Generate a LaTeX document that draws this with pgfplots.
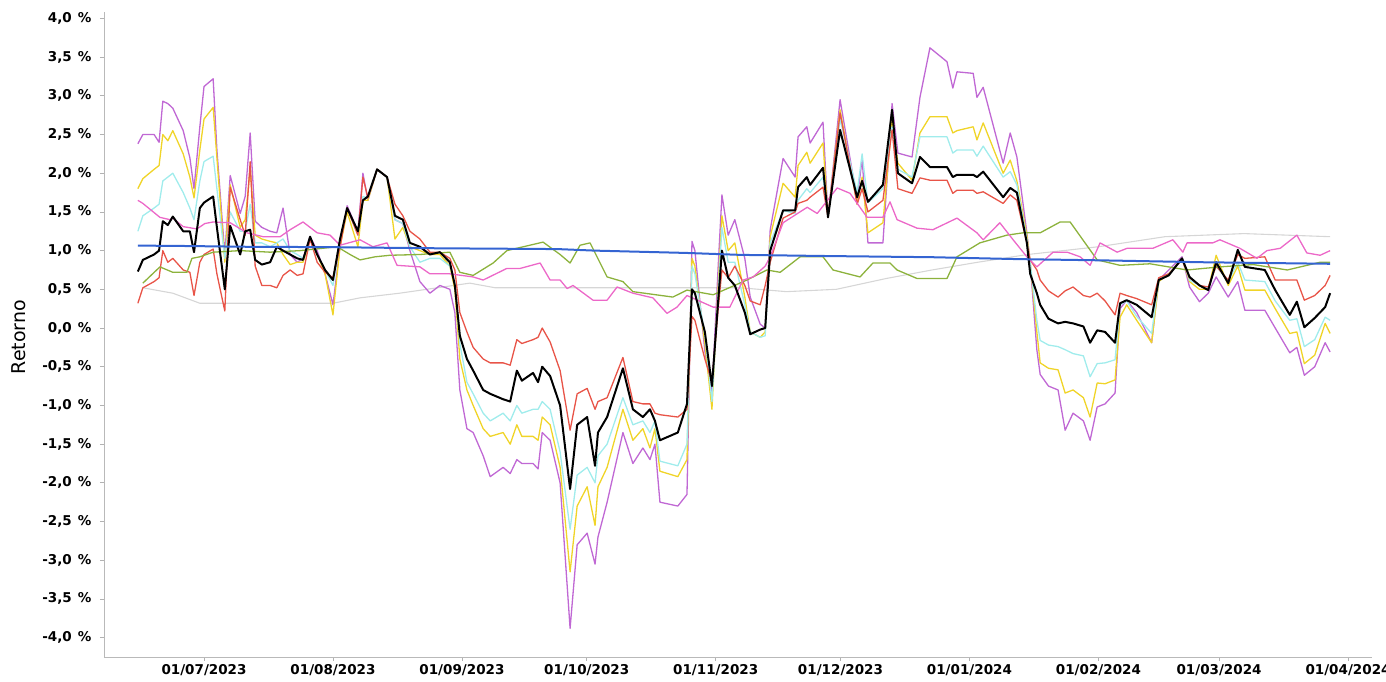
\documentclass[border=0pt]{standalone}
\usepackage{fontspec}
\setmainfont{DejaVu Sans}
\usepackage{pgfplots}
\usepackage{pgfplotstable}
\pgfplotsset{compat=1.18}

\definecolor{cPurple}{RGB}{192,104,212}
\definecolor{cYellow}{RGB}{240,212,40}
\definecolor{cCyan}{RGB}{160,236,236}
\definecolor{cRed}{RGB}{232,84,72}
\definecolor{cGreen}{RGB}{140,178,60}
\definecolor{cPink}{RGB}{236,104,200}
\definecolor{cBlue}{RGB}{52,100,210}
\definecolor{cGray}{RGB}{214,214,214}

% day = days since 01/07/2023, values in %
\pgfplotstableread{
d P Y C K R
-15.9 2.38 1.80 1.25 0.73 0.32
-14.7 2.50 1.93 1.45 0.88 0.52
-12.0 2.50 2.05 1.55 0.95 0.60
-10.8 2.40 2.10 1.60 1.00 0.65
-9.9 2.93 2.50 1.90 1.38 1.00
-8.7 2.90 2.42 1.95 1.33 0.85
-7.5 2.84 2.55 2.00 1.44 0.90
-5.0 2.55 2.25 1.75 1.25 0.75
-3.4 2.20 1.95 1.55 1.25 0.72
-2.4 1.80 1.68 1.40 0.98 0.42
-1.0 2.60 2.30 1.90 1.55 0.85
0.0 3.12 2.70 2.15 1.62 0.95
2.2 3.22 2.85 2.22 1.70 1.02
3.1 2.30 2.20 1.80 1.30 0.70
5.0 0.95 0.85 0.90 0.50 0.22
6.3 1.97 1.85 1.50 1.32 1.82
8.7 1.48 1.30 1.25 0.95 1.40
9.9 1.70 1.40 1.25 1.25 1.20
11.1 2.52 2.05 1.60 1.27 2.15
12.3 1.38 1.20 1.10 0.88 0.80
13.9 1.30 1.15 1.10 0.82 0.55
15.9 1.25 1.12 1.05 0.85 0.55
17.5 1.23 1.10 1.10 1.05 0.52
19.0 1.55 0.95 1.15 1.00 0.68
20.7 0.95 0.82 1.00 0.95 0.75
22.4 0.85 0.85 0.95 0.90 0.68
23.8 0.90 0.85 0.90 0.88 0.70
25.5 1.18 1.15 1.15 1.18 1.15
27.2 1.00 0.95 0.95 0.95 0.85
29.1 0.70 0.70 0.75 0.75 0.72
31.0 0.30 0.17 0.55 0.62 0.65
32.7 1.05 1.05 1.10 1.15 1.05
34.4 1.58 1.50 1.55 1.55 1.55
37.0 1.25 1.05 1.20 1.25 1.20
38.2 2.00 1.65 1.70 1.65 1.95
39.4 1.65 1.65 1.68 1.70 1.68
41.6 2.05 2.05 2.05 2.05 2.05
44.0 1.95 1.95 1.95 1.95 1.95
45.9 1.40 1.15 1.40 1.45 1.60
47.8 1.35 1.30 1.35 1.40 1.45
49.5 1.00 1.05 1.05 1.10 1.25
51.9 0.60 1.00 0.85 1.05 1.15
54.3 0.45 0.95 0.90 0.95 0.98
56.7 0.55 0.95 0.90 0.98 0.98
59.1 0.50 0.80 0.80 0.85 0.90
60.3 0.20 0.50 0.60 0.55 0.75
61.5 -0.80 -0.40 -0.20 -0.10 0.20
63.2 -1.30 -0.80 -0.70 -0.40 -0.05
64.7 -1.35 -1.00 -0.85 -0.55 -0.25
67.1 -1.65 -1.30 -1.10 -0.80 -0.40
68.8 -1.92 -1.40 -1.20 -0.85 -0.45
71.9 -1.80 -1.35 -1.10 -0.92 -0.45
73.6 -1.88 -1.50 -1.20 -0.95 -0.48
75.2 -1.70 -1.25 -1.00 -0.55 -0.15
76.4 -1.75 -1.40 -1.10 -0.68 -0.20
79.1 -1.75 -1.40 -1.05 -0.58 -0.15
80.3 -1.82 -1.45 -1.05 -0.70 -0.12
81.3 -1.35 -1.15 -0.95 -0.50 0.00
83.2 -1.45 -1.25 -1.05 -0.62 -0.18
85.6 -2.00 -1.80 -1.60 -1.00 -0.55
88.0 -3.88 -3.15 -2.60 -2.08 -1.32
89.7 -2.80 -2.30 -1.90 -1.25 -0.85
92.1 -2.65 -2.05 -1.80 -1.15 -0.78
94.0 -3.05 -2.55 -2.00 -1.78 -1.05
94.7 -2.70 -2.05 -1.65 -1.35 -0.95
96.9 -2.25 -1.80 -1.50 -1.15 -0.90
100.7 -1.35 -1.05 -0.90 -0.52 -0.38
103.1 -1.75 -1.45 -1.25 -1.05 -0.95
105.5 -1.55 -1.30 -1.20 -1.15 -0.98
107.2 -1.70 -1.55 -1.35 -1.05 -0.98
108.4 -1.50 -1.30 -1.20 -1.20 -1.10
109.6 -2.25 -1.85 -1.72 -1.45 -1.12
113.9 -2.30 -1.92 -1.78 -1.35 -1.15
116.1 -2.15 -1.70 -1.50 -0.98 -1.05
117.3 1.12 0.90 0.80 0.50 0.15
118.0 1.00 0.80 0.70 0.45 0.10
120.4 -0.30 -0.20 -0.10 -0.05 -0.40
122.1 -0.85 -1.05 -0.95 -0.75 -0.70
123.6 0.80 0.55 0.45 0.35 0.25
124.5 1.72 1.45 1.30 1.00 0.75
126.0 1.20 1.00 0.85 0.65 0.65
127.6 1.40 1.10 0.85 0.55 0.80
130.0 0.90 0.40 0.30 0.20 0.55
131.3 0.40 -0.05 -0.05 -0.08 0.35
133.7 0.05 -0.12 -0.12 -0.02 0.30
134.9 0.00 -0.05 -0.10 0.00 0.55
136.1 1.27 1.18 1.10 1.00 0.85
139.2 2.19 1.87 1.52 1.52 1.42
142.1 1.95 1.69 1.48 1.52 1.50
142.8 2.47 2.10 1.65 1.82 1.61
144.9 2.60 2.27 1.80 1.95 1.65
145.7 2.39 2.13 1.75 1.85 1.69
148.8 2.66 2.39 1.95 2.07 1.82
150.0 1.43 1.43 1.43 1.43 1.43
152.9 2.95 2.82 2.70 2.56 2.78
157.0 1.65 1.60 1.75 1.69 1.60
158.2 2.19 1.95 2.25 1.90 1.80
159.6 1.10 1.23 1.62 1.63 1.50
163.2 1.10 1.36 1.80 1.85 1.65
165.4 2.90 2.69 2.60 2.82 2.56
166.8 2.26 2.13 2.05 2.00 1.80
170.2 2.21 1.91 1.95 1.87 1.74
172.1 2.98 2.52 2.47 2.21 1.94
174.5 3.62 2.73 2.47 2.08 1.91
178.6 3.44 2.73 2.47 2.08 1.91
180.0 3.10 2.52 2.26 1.95 1.74
181.0 3.31 2.55 2.30 1.98 1.78
184.9 3.29 2.60 2.30 1.98 1.78
185.8 2.98 2.43 2.22 1.95 1.74
187.3 3.11 2.65 2.35 2.02 1.76
192.1 2.13 2.00 1.95 1.69 1.61
193.8 2.52 2.17 2.02 1.81 1.72
195.4 2.21 1.90 1.85 1.75 1.65
197.8 1.23 1.20 1.15 1.10 1.10
198.6 0.84 0.85 0.84 0.70 0.88
200.2 -0.28 -0.05 0.10 0.45 0.75
201.0 -0.60 -0.45 -0.16 0.30 0.62
203.0 -0.75 -0.52 -0.22 0.12 0.48
205.3 -0.80 -0.54 -0.24 0.06 0.40
207.0 -1.32 -0.84 -0.28 0.08 0.48
208.9 -1.10 -0.80 -0.33 0.06 0.53
211.4 -1.20 -0.90 -0.36 0.02 0.42
213.0 -1.45 -1.15 -0.63 -0.19 0.40
214.7 -1.02 -0.71 -0.46 -0.03 0.45
216.6 -0.98 -0.72 -0.45 -0.05 0.35
219.0 -0.84 -0.67 -0.41 -0.19 0.17
220.2 0.25 0.14 0.30 0.32 0.45
221.8 0.36 0.30 0.35 0.36 0.42
224.2 0.20 0.10 0.15 0.30 0.38
227.8 -0.19 -0.19 -0.07 0.14 0.30
229.5 0.62 0.60 0.62 0.62 0.65
231.9 0.75 0.70 0.70 0.68 0.70
235.1 0.92 0.90 0.90 0.90 0.88
236.9 0.53 0.60 0.62 0.66 0.65
239.3 0.34 0.50 0.55 0.55 0.55
241.4 0.45 0.50 0.52 0.49 0.53
243.3 0.66 0.94 0.80 0.85 0.80
246.2 0.40 0.55 0.60 0.58 0.62
248.5 0.60 0.80 0.85 1.01 0.95
250.2 0.23 0.49 0.62 0.79 0.90
255.0 0.23 0.49 0.60 0.75 0.92
257.5 0.00 0.25 0.35 0.49 0.62
261.0 -0.32 -0.07 0.10 0.17 0.62
262.7 -0.25 -0.05 0.12 0.34 0.62
264.5 -0.61 -0.46 -0.24 0.01 0.36
267.0 -0.50 -0.35 -0.15 0.13 0.42
269.5 -0.19 0.06 0.14 0.27 0.55
270.7 -0.31 -0.07 0.10 0.45 0.68
}\fan

\pgfplotstableread{
d v
-15.9 1.65
-14.7 1.61
-10.6 1.43
-8.2 1.40
-7.5 1.42
-5.0 1.31
-1.7 1.28
0.2 1.35
2.2 1.37
6.3 1.36
10.3 1.23
14.2 1.18
18.3 1.18
20.7 1.27
23.8 1.37
27.2 1.23
30.3 1.20
32.7 1.07
37.5 1.14
40.6 1.05
44.0 1.10
46.4 0.81
51.9 0.79
54.3 0.70
59.1 0.70
64.7 0.66
67.1 0.62
72.8 0.77
76.0 0.77
80.8 0.84
83.2 0.62
85.6 0.62
87.3 0.51
88.7 0.55
93.5 0.36
96.9 0.36
99.3 0.53
103.1 0.45
107.9 0.39
111.3 0.19
113.7 0.27
116.1 0.42
122.4 0.27
126.4 0.27
129.6 0.62
132.0 0.66
134.9 0.80
136.1 0.92
139.2 1.36
145.0 1.56
147.4 1.48
152.2 1.81
155.3 1.74
159.4 1.43
163.2 1.43
164.9 1.63
166.6 1.40
171.4 1.29
175.2 1.27
181.0 1.42
185.8 1.23
187.3 1.14
191.3 1.36
194.5 1.14
197.8 0.92
200.2 0.79
204.1 0.98
207.5 0.98
210.6 0.92
213.0 0.81
215.4 1.10
219.5 0.98
221.9 1.03
228.1 1.03
232.9 1.14
235.3 0.98
236.3 1.10
242.5 1.10
244.2 1.14
249.0 1.03
253.1 0.90
255.5 1.00
258.7 1.03
262.7 1.20
265.1 0.97
268.3 0.94
270.7 1.00
}\pink

\pgfplotstableread{
d v
-14.7 0.58
-10.6 0.79
-7.5 0.72
-4.1 0.72
-2.9 0.90
-1.0 0.92
2.2 0.98
8.7 1.00
15.9 0.98
23.1 1.00
32.0 1.05
35.1 0.95
37.5 0.88
41.1 0.92
44.7 0.94
51.9 0.95
59.1 0.98
61.5 0.72
64.7 0.68
69.5 0.84
72.8 1.00
81.5 1.11
85.6 0.95
88.0 0.84
90.4 1.07
92.8 1.10
96.9 0.66
100.7 0.60
103.1 0.47
112.7 0.40
116.1 0.49
122.4 0.43
130.5 0.62
135.3 0.75
138.5 0.72
143.3 0.92
148.8 0.92
151.2 0.75
157.7 0.66
160.8 0.84
164.9 0.84
166.6 0.75
171.4 0.64
178.6 0.64
181.0 0.92
186.5 1.10
193.0 1.20
196.9 1.23
201.0 1.23
205.8 1.37
208.2 1.37
214.7 0.88
220.2 0.81
227.4 0.83
236.3 0.75
244.2 0.79
252.2 0.82
260.4 0.75
268.3 0.85
270.7 0.85
}\green

\pgfplotstableread{
d v
-14.7 0.52
-7.5 0.45
-1.0 0.32
31.0 0.32
37.5 0.39
47.0 0.45
63.9 0.58
70.0 0.52
100.0 0.52
129.0 0.52
140.0 0.47
152.0 0.50
164.0 0.64
175.0 0.75
186.0 0.85
198.0 0.95
215.0 1.05
231.0 1.18
250.0 1.22
270.7 1.18
}\grey

\pgfplotstableread{
d v
-15.9 1.065
-5.0 1.060
10.0 1.050
30.0 1.045
47.0 1.035
56.7 1.030
85.0 1.020
94.0 1.000
116.0 0.970
129.0 0.945
150.0 0.930
175.0 0.915
196.0 0.890
215.0 0.875
240.0 0.850
270.7 0.830
}\blue

\begin{document}
\begin{tikzpicture}
\useasboundingbox (0,0) rectangle (1386pt,682pt);
\begin{axis}[
  at={(104pt,25pt)}, anchor=south west,
  width=1268pt, height=645pt, scale only axis,
  xmin=-24.04, xmax=280.77, ymin=-4.25, ymax=4.083,
  axis x line*=bottom, axis y line*=left,
  axis line style={gray!55, line width=0.8pt, -},
  tick align=outside, major tick length=4pt,
  tick style={gray!60, line width=0.8pt},
  xtick={0,31,62,92,123,153,184,215,244,275},
  xticklabels={01/07/2023,01/08/2023,01/09/2023,01/10/2023,01/11/2023,01/12/2023,01/01/2024,01/02/2024,01/03/2024,01/04/2024},
  ytick={-4,-3.5,-3,-2.5,-2,-1.5,-1,-0.5,0,0.5,1,1.5,2,2.5,3,3.5,4},
  yticklabels={{-4,0\hspace{0.45em}\%},{-3,5\hspace{0.45em}\%},{-3,0\hspace{0.45em}\%},{-2,5\hspace{0.45em}\%},{-2,0\hspace{0.45em}\%},{-1,5\hspace{0.45em}\%},{-1,0\hspace{0.45em}\%},{-0,5\hspace{0.45em}\%},{0,0\hspace{0.45em}\%},{0,5\hspace{0.45em}\%},{1,0\hspace{0.45em}\%},{1,5\hspace{0.45em}\%},{2,0\hspace{0.45em}\%},{2,5\hspace{0.45em}\%},{3,0\hspace{0.45em}\%},{3,5\hspace{0.45em}\%},{4,0\hspace{0.45em}\%}},
  tick label style={font=\fontsize{13.5}{16}\selectfont\bfseries},
  yticklabel style={xshift=-5pt},
  ylabel={Retorno},
  ylabel style={font=\fontsize{19}{22}\selectfont, at={(axis description cs:-0.067,0.496)}, anchor=center},
  every axis plot/.append style={line width=1.3pt, line join=round},
]
\addplot[cGray, line width=1.1pt] table[x=d,y=v] {\grey};
\addplot[cPurple] table[x=d,y=P] {\fan};
\addplot[cYellow] table[x=d,y=Y] {\fan};
\addplot[cCyan] table[x=d,y=C] {\fan};
\addplot[cRed] table[x=d,y=R] {\fan};
\addplot[cGreen] table[x=d,y=v] {\green};
\addplot[cPink] table[x=d,y=v] {\pink};
\addplot[black, line width=2pt] table[x=d,y=K] {\fan};
\addplot[cBlue, line width=2pt] table[x=d,y=v] {\blue};
\end{axis}
\end{tikzpicture}
\end{document}
